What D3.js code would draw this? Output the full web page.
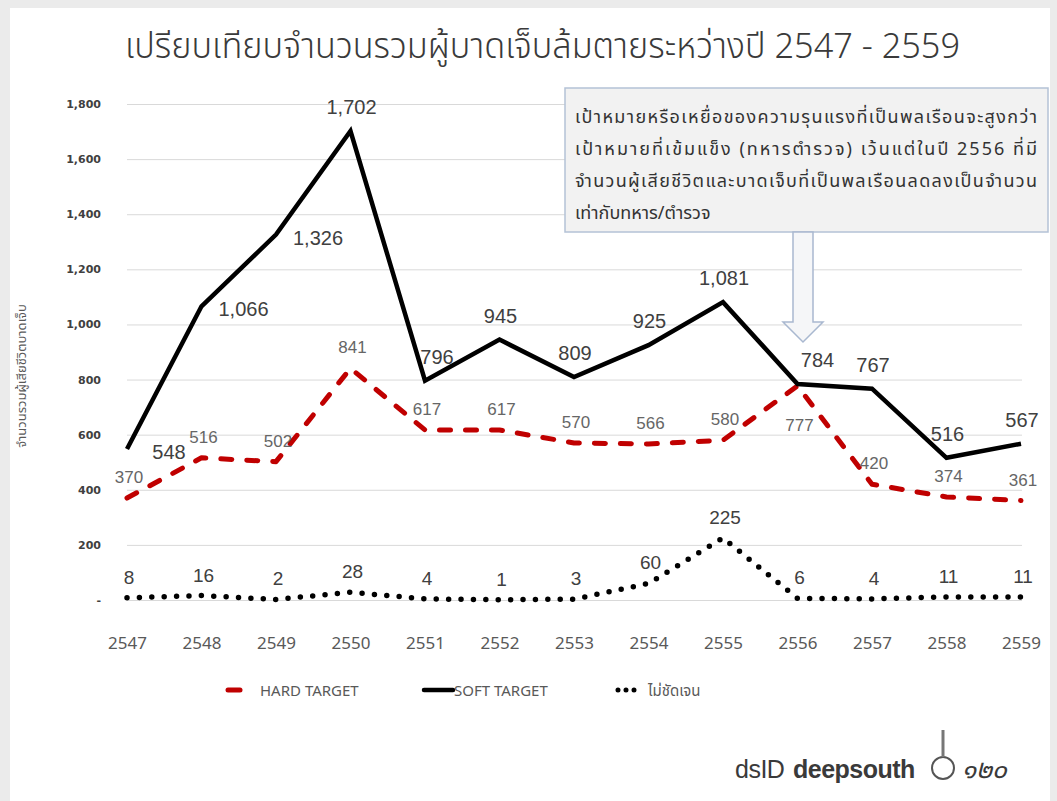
<!DOCTYPE html>
<html>
<head>
<meta charset="utf-8">
<script src="https://cdn.jsdelivr.net/npm/d3@7"></script>
<style>
body { margin: 0; background: #ebebeb; }
svg { display: block; }
.ytick text { font: bold 11px Verdana, "DejaVu Sans", sans-serif; fill: #404040; }
.xtick text { font: 17px "Liberation Sans Narrow", "Noto Sans", sans-serif; fill: #595959; }
</style>
</head>
<body>
<svg id="chart" width="1057" height="801"></svg>
<script>
// values
var years = ["2547","2548","2549","2550","2551","2552","2553","2554","2555","2556","2557","2558","2559"];
var hardTarget = [370, 516, 502, 841, 617, 617, 570, 566, 580, 777, 420, 374, 361];
var softTarget = [548, 1066, 1326, 1702, 796, 945, 809, 925, 1081, 784, 767, 516, 567];
var unclear    = [8, 16, 2, 28, 4, 1, 3, 60, 225, 6, 4, 11, 11];
var yTicks = [0, 200, 400, 600, 800, 1000, 1200, 1400, 1600, 1800];
var seriesNames = ["HARD TARGET", "SOFT TARGET", "ไม่ชัดเจน"];

var titleText = "เปรียบเทียบจำนวนรวมผู้บาดเจ็บล้มตายระหว่างปี 2547 - 2559";
var yTitle = "จำนวนรวมผู้เสียชีวิตบาดเจ็บ";
var noteLines = [
  "เป้าหมายหรือเหยื่อของความรุนแรงที่เป็นพลเรือนจะสูงกว่า",
  "เป้าหมายที่เข้มแข็ง (ทหารตำรวจ) เว้นแต่ในปี 2556 ที่มี",
  "จำนวนผู้เสียชีวิตและบาดเจ็บที่เป็นพลเรือนลดลงเป็นจำนวน",
  "เท่ากับทหาร/ตำรวจ"
];

var thai = '"Noto Sans Thai", "Noto Sans", "DejaVu Sans", sans-serif';

var svg = d3.select("#chart");
svg.append("rect").attr("x", 10).attr("y", 8).attr("width", 1040).attr("height", 793).attr("fill", "#fff");

var x = d3.scalePoint().domain(years).range([127, 1021]);
var y = d3.scaleLinear().domain([0, 1800]).range([600, 104]);

// grid
svg.append("g").attr("transform", "translate(127,0)")
  .call(d3.axisLeft(y).tickValues(yTicks).tickSize(-895).tickFormat(""))
  .call(g => g.select(".domain").remove())
  .call(g => g.selectAll("line").attr("stroke", "#d9d9d9"));

// y labels
svg.append("g").attr("class", "ytick").attr("transform", "translate(127,0)")
  .call(d3.axisLeft(y).tickValues(yTicks).tickSize(0).tickPadding(26)
    .tickFormat(d => d === 0 ? "-" : d3.format(",")(d)))
  .call(g => g.select(".domain").remove());

// x labels
svg.append("g").attr("class", "xtick").attr("transform", "translate(0,633)")
  .call(d3.axisBottom(x).tickSize(0).tickPadding(4))
  .call(g => g.select(".domain").remove());

svg.append("text")
  .attr("transform", "translate(26,376) rotate(-90)")
  .attr("text-anchor", "middle")
  .style("font", "13px " + thai).attr("fill", "#595959")
  .text(yTitle);

svg.append("text")
  .attr("x", 125).attr("y", 58)
  .attr("textLength", 835).attr("lengthAdjust", "spacingAndGlyphs")
  .style("font", "300 35px " + thai).attr("fill", "#3a3a3a")
  .text(titleText);

var line = d3.line().x((d, i) => x(years[i])).y(d => y(d));

svg.append("path").datum(hardTarget).attr("d", line)
  .attr("fill", "none").attr("stroke", "#c00000").attr("stroke-width", 5)
  .attr("stroke-dasharray", "11,15").attr("stroke-linecap", "round").attr("stroke-linejoin", "round");

svg.append("path").datum(softTarget).attr("d", line)
  .attr("fill", "none").attr("stroke", "#000").attr("stroke-width", 4.5).attr("stroke-linejoin", "miter");

svg.append("path").datum(unclear).attr("d", line)
  .attr("fill", "none").attr("stroke", "#000").attr("stroke-width", 5.5)
  .attr("stroke-dasharray", "0,12.4").attr("stroke-linecap", "round");

// data labels
var label = '"Liberation Sans", Arial, sans-serif';
svg.append("g").selectAll("text").data(softTarget).join("text")
  .attr("x", (d, i) => x(years[i]) + (i < 3 ? 42 : i == 9 ? 20 : i == 4 ? 12 : 1))
  .attr("y", (d, i) => y(d) + (i < 3 ? 10 : -17))
  .attr("text-anchor", "middle")
  .style("font", "20px " + label).attr("fill", "#404040")
  .text(d => d3.format(",")(d));

svg.append("g").selectAll("text").data(hardTarget).join("text")
  .attr("x", (d, i) => x(years[i]) + 2)
  .attr("y", (d, i) => i == 9 ? y(d) + 45 : y(d) - 15)
  .attr("text-anchor", "middle")
  .style("font", "17px " + label).attr("fill", "#666")
  .text(d => d);

svg.append("g").selectAll("text").data(unclear).join("text")
  .attr("x", (d, i) => x(years[i]) + 2)
  .attr("y", (d, i) => y(d) - 14)
  .attr("text-anchor", "middle")
  .style("font", "19px " + label).attr("fill", "#404040")
  .text(d => d);

// note box + arrow
svg.append("rect").attr("x", 565).attr("y", 88).attr("width", 483).attr("height", 144)
  .attr("fill", "#f2f2f2").attr("stroke", "#b4c2d6").attr("stroke-width", 1.5);
svg.append("path")
  .attr("d", "M793,232 L813,232 L813,322 L823,322 L803,342 L783,322 L793,322 Z")
  .attr("fill", "#f5f6f8").attr("stroke", "#a9b8d0").attr("stroke-width", 1.5);
svg.append("g").selectAll("text").data(noteLines).join("text")
  .attr("x", 575).attr("y", (d, i) => 123 + i * 32)
  .attr("textLength", (d, i) => i < 3 ? 462 : null)
  .attr("lengthAdjust", "spacing")
  .style("font", "18px " + thai).attr("fill", "#333")
  .text(d => d);

// legend
var leg = svg.append("g").style("font", "15px " + thai).attr("fill", "#595959");
leg.append("line").attr("x1", 228).attr("x2", 240).attr("y1", 690).attr("y2", 690)
  .attr("stroke", "#c00000").attr("stroke-width", 5).attr("stroke-linecap", "round");
leg.append("text").attr("x", 260).attr("y", 696).text(seriesNames[0]);
leg.append("line").attr("x1", 424).attr("x2", 453).attr("y1", 690).attr("y2", 690)
  .attr("stroke", "#000").attr("stroke-width", 4.5).attr("stroke-linecap", "round");
leg.append("text").attr("x", 454).attr("y", 696).text(seriesNames[1]);
leg.append("line").attr("x1", 618).attr("x2", 636).attr("y1", 690).attr("y2", 690)
  .attr("stroke", "#000").attr("stroke-width", 5).attr("stroke-dasharray", "0,8").attr("stroke-linecap", "round");
leg.append("text").attr("x", 648).attr("y", 696).text(seriesNames[2]);

// logo
var logo = svg.append("g");
logo.append("text").attr("x", 735).attr("y", 778)
  .style("font", "25px " + label).attr("fill", "#3a3a3a").attr("letter-spacing", -0.5)
  .text("dsID");
logo.append("text").attr("x", 793).attr("y", 778)
  .style("font", "bold 25px " + label).attr("fill", "#3a3a3a").attr("letter-spacing", -0.5)
  .text("deepsouth");
logo.append("circle").attr("cx", 943).attr("cy", 768).attr("r", 11)
  .attr("fill", "#fff").attr("stroke", "#555").attr("stroke-width", 2);
logo.append("path").attr("d", "M943,757 L943,730").attr("stroke", "#777").attr("stroke-width", 3);
logo.append("text").attr("x", 962).attr("y", 778)
  .style("font", "italic 26px " + thai).attr("fill", "#3a3a3a")
  .text("๑๒๐");
</script>
</body>
</html>
